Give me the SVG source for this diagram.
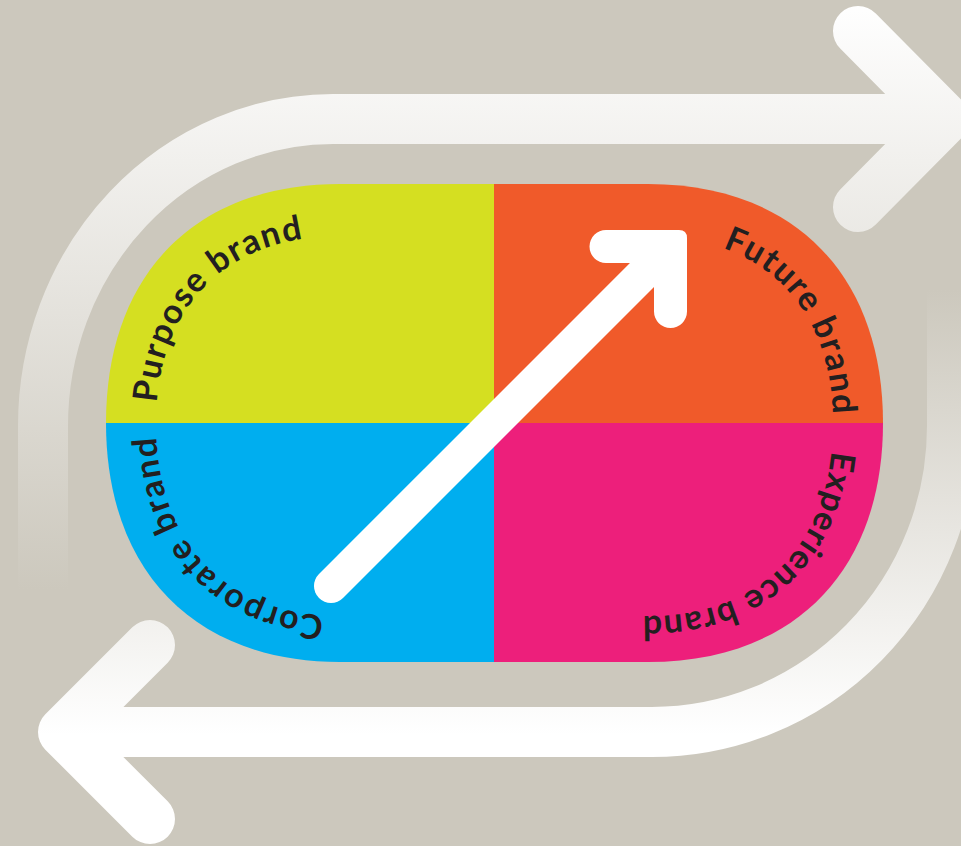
<svg xmlns="http://www.w3.org/2000/svg" width="961" height="846" viewBox="0 0 961 846">
  <style>
    .lbl { font-family: "Lato", "Liberation Sans", sans-serif; font-weight: 700; font-size: 34px; letter-spacing: 1.6px; fill: #231f20; }
    .tight { letter-spacing: 1.1px; }
    .loop { fill: none; stroke-width: 50; stroke-linecap: round; stroke-linejoin: round; }
    .grow { fill: none; stroke: #ffffff; stroke-width: 34; stroke-linecap: round; }
  </style>
  <defs>
    <linearGradient id="gTop" gradientUnits="userSpaceOnUse" x1="0" y1="0" x2="0" y2="590">
      <stop offset="0" stop-color="#ffffff"/>
      <stop offset="1" stop-color="#ccc8bd"/>
    </linearGradient>
    <linearGradient id="gBot" gradientUnits="userSpaceOnUse" x1="0" y1="290" x2="0" y2="735">
      <stop offset="0" stop-color="#ccc8bd"/>
      <stop offset="1" stop-color="#ffffff"/>
    </linearGradient>
    <path id="pPurpose" d="M 156 423 C 156 307 226 236 340 236 L 494 236"/>
    <path id="pFuture" d="M 494 236 L 648 236 C 762.7 236 833 307 833 423"/>
    <path id="pExperience" d="M 833 423 C 833 542.7 762.7 616 648 616 L 494 616"/>
    <path id="pCorporate" d="M 494 616 L 340 616 C 226 616 156 542.7 156 423"/>
  </defs>

  <rect x="0" y="0" width="961" height="846" fill="#ccc8bd"/>

  <g id="purpose">
    <path d="M 494 423 L 106 423 C 106 274.8 194.9 184 340 184 L 494 184 Z" fill="#d5df21"/>
    <text class="lbl"><textPath href="#pPurpose" startOffset="20">Purpose brand</textPath></text>
  </g>
  <g id="future">
    <path d="M 494 184 L 648 184 C 793.7 184 883 274.8 883 423 L 494 423 Z" fill="#f05a2a"/>
    <text class="lbl"><textPath href="#pFuture" startOffset="230">Future brand</textPath></text>
  </g>
  <g id="experience">
    <path d="M 494 423 L 883 423 C 883 571.2 793.7 662 648 662 L 494 662 Z" fill="#ed1f7b"/>
    <text class="lbl tight"><textPath href="#pExperience" startOffset="28">Experience brand</textPath></text>
  </g>
  <g id="corporate">
    <path d="M 494 423 L 494 662 L 340 662 C 194.9 662 106 571.2 106 423 Z" fill="#00aeef"/>
    <text class="lbl"><textPath href="#pCorporate" startOffset="170">Corporate brand</textPath></text>
  </g>

  <g id="connectors">
    <g id="loop-top">
      <path class="loop" stroke="url(#gTop)" d="M 43 600 L 43 426 A 290 307 0 0 1 333 119 L 940 119"/>
      <path class="loop" stroke="url(#gTop)" d="M 858 31 L 945 119 L 858 207"/>
    </g>
    <g id="loop-bottom">
      <path class="loop" stroke="url(#gBot)" d="M 952 280 L 952 426 A 300 306 0 0 1 652 732 L 70 732"/>
      <path class="loop" stroke="url(#gBot)" d="M 150 645 L 63 732 L 150 819"/>
    </g>
    <g id="growth-arrow">
      <line class="grow" x1="331" y1="586" x2="668" y2="249"/>
      <path fill="#ffffff" d="M 606 230 L 679 230 Q 687 230 687 238 L 687 311.5 A 16.5 16.5 0 0 1 654 311.5 L 654 263 L 606 263 A 16.5 16.5 0 0 1 606 230 Z"/>
    </g>
  </g>
</svg>
